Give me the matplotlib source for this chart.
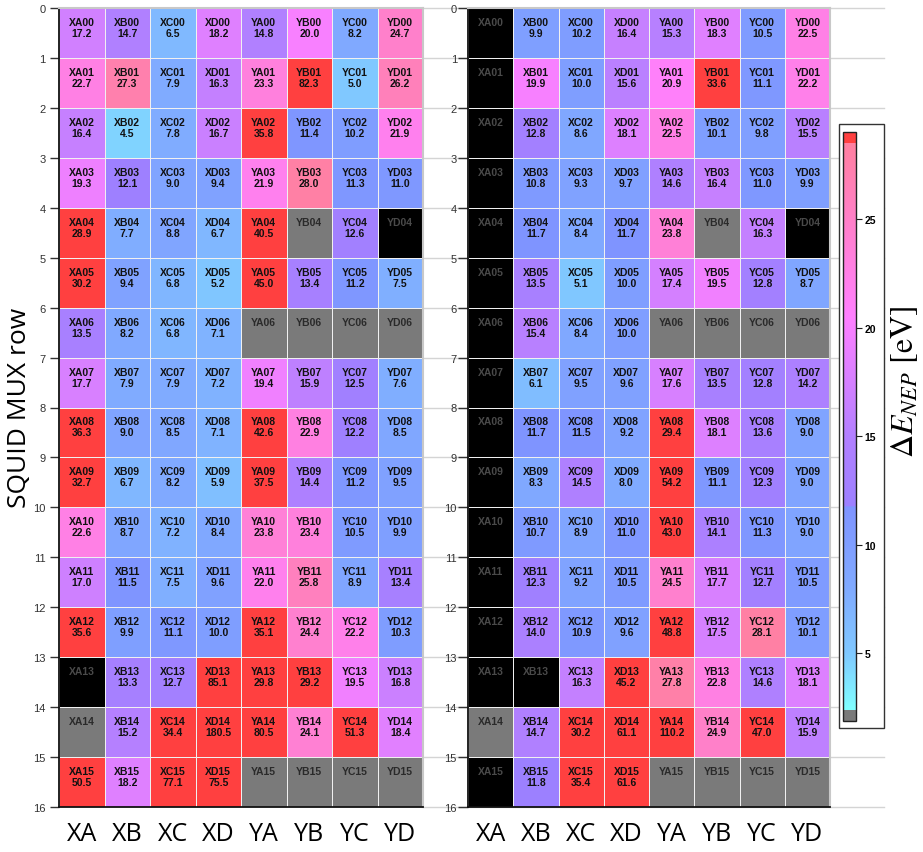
import numpy as np
import matplotlib
matplotlib.use("Agg")
import matplotlib.pyplot as plt
from matplotlib.colors import LinearSegmentedColormap, ListedColormap
from matplotlib.patches import Rectangle
from matplotlib.lines import Line2D

nan = np.nan

columns = ["XA", "XB", "XC", "XD", "YA", "YB", "YC", "YD"]
n_rows = 16

# Noise-equivalent energy resolution per channel [eV]; nan = no value
left_values = [
    [17.2, 14.7, 6.5, 18.2, 14.8, 20.0, 8.2, 24.7],
    [22.7, 27.3, 7.9, 16.3, 23.3, 82.3, 5.0, 26.2],
    [16.4, 4.5, 7.8, 16.7, 35.8, 11.4, 10.2, 21.9],
    [19.3, 12.1, 9.0, 9.4, 21.9, 28.0, 11.3, 11.0],
    [28.9, 7.7, 8.8, 6.7, 40.5, nan, 12.6, nan],
    [30.2, 9.4, 6.8, 5.2, 45.0, 13.4, 11.2, 7.5],
    [13.5, 8.2, 6.8, 7.1, nan, nan, nan, nan],
    [17.7, 7.9, 7.9, 7.2, 19.4, 15.9, 12.5, 7.6],
    [36.3, 9.0, 8.5, 7.1, 42.6, 22.9, 12.2, 8.5],
    [32.7, 6.7, 8.2, 5.9, 37.5, 14.4, 11.2, 9.5],
    [22.6, 8.7, 7.2, 8.4, 23.8, 23.4, 10.5, 9.9],
    [17.0, 11.5, 7.5, 9.6, 22.0, 25.8, 8.9, 13.4],
    [35.6, 9.9, 11.1, 10.0, 35.1, 24.4, 22.2, 10.3],
    [nan, 13.3, 12.7, 85.1, 29.8, 29.2, 19.5, 16.8],
    [nan, 15.2, 34.4, 180.5, 80.5, 24.1, 51.3, 18.4],
    [50.5, 18.2, 77.1, 75.5, nan, nan, nan, nan],
]
left_dead = ["YD04", "XA13"]

right_values = [
    [nan, 9.9, 10.2, 16.4, 15.3, 18.3, 10.5, 22.5],
    [nan, 19.9, 10.0, 15.6, 20.9, 33.6, 11.1, 22.2],
    [nan, 12.8, 8.6, 18.1, 22.5, 10.1, 9.8, 15.5],
    [nan, 10.8, 9.3, 9.7, 14.6, 16.4, 11.0, 9.9],
    [nan, 11.7, 8.4, 11.7, 23.8, nan, 16.3, nan],
    [nan, 13.5, 5.1, 10.0, 17.4, 19.5, 12.8, 8.7],
    [nan, 15.4, 8.4, 10.0, nan, nan, nan, nan],
    [nan, 6.1, 9.5, 9.6, 17.6, 13.5, 12.8, 14.2],
    [nan, 11.7, 11.5, 9.2, 29.4, 18.1, 13.6, 9.0],
    [nan, 8.3, 14.5, 8.0, 54.2, 11.1, 12.3, 9.0],
    [nan, 10.7, 8.9, 11.0, 43.0, 14.1, 11.3, 9.0],
    [nan, 12.3, 9.2, 10.5, 24.5, 17.7, 12.7, 10.5],
    [nan, 14.0, 10.9, 9.6, 48.8, 17.5, 28.1, 10.1],
    [nan, nan, 16.3, 45.2, 27.8, 22.8, 14.6, 18.1],
    [nan, 14.7, 30.2, 61.1, 110.2, 24.9, 47.0, 15.9],
    [nan, 11.8, 35.4, 61.6, nan, nan, nan, nan],
]
right_dead = ["XA%02d" % r for r in range(16) if r != 14] + ["XB13", "YD04"]

colorbar_ticks = [5, 10, 15, 20, 25]
vmin, vmax = 2.4, 28.5


# colour scale: cyan -> blue, then purple -> magenta -> pink
def pos(v):
    return (v - vmin) / (vmax - vmin)


cmap = LinearSegmentedColormap.from_list("nep", [
    (0.0, "#80ffff"),
    (pos(5.0), "#80c8ff"),
    (pos(8.0), "#80aaff"),
    (pos(11.74), "#7f94ff"),
    (pos(11.76), "#9c80ff"),
    (pos(15.0), "#b280ff"),
    (pos(20.5), "#ff80ff"),
    (pos(25.0), "#ff80c8"),
    (1.0, "#ff80a0"),
], N=512)
cmap.set_over("#ff4040")
cmap.set_under("#7a7a7a")
cmap.set_bad("#7a7a7a")
dead_cmap = ListedColormap(["#000000"])

W, H = 923, 853
fig = plt.figure(figsize=(W / 100, H / 100), dpi=100)


def fx(px):
    return px / W


def fy(py):
    return 1 - py / H


top_px, bot_px = 9, 808
row_h = (bot_px - top_px) / n_rows

# faint row guide lines running behind the panels
for r in range(n_rows + 1):
    y = fy(top_px + r * row_h)
    fig.add_artist(Line2D([fx(423), fx(884)], [y, y], color="#d4d4d4",
                          lw=1.0, zorder=-2))


def draw_panel(ax, values, dead, tick_len=6.5, tick_pad=3):
    data = np.array(values, dtype=float)
    x = np.arange(len(columns) + 1)
    y = np.arange(n_rows + 1)
    ax.pcolormesh(x, y, np.ma.masked_invalid(data), cmap=cmap, vmin=vmin,
                  vmax=vmax, edgecolors="#f0f0f0", linewidth=0.5)
    dead_mask = np.zeros_like(data)
    for name in dead:
        c = columns.index(name[:2])
        r = int(name[2:])
        dead_mask[r, c] = 1
    ax.pcolormesh(x, y, np.ma.masked_where(dead_mask == 0, dead_mask),
                  cmap=dead_cmap, edgecolors="#f0f0f0", linewidth=0.5)
    for r in range(n_rows):
        for c, col in enumerate(columns):
            name = "%s%02d" % (col, r)
            v = data[r, c]
            if dead_mask[r, c]:
                color = "#4a4a4a"
            elif np.isnan(v):
                color = "#2a2a2a"
            else:
                color = "#111111"
            ax.text(c + 0.5, r + 0.28, name, ha="center", va="center",
                    fontsize=7.5, fontweight="bold", family="Liberation Sans",
                    color=color)
            if not dead_mask[r, c] and not np.isnan(v):
                ax.text(c + 0.5, r + 0.50, "%.1f" % v, ha="center",
                        va="center", fontsize=7.5, fontweight="bold",
                        family="Liberation Sans", color=color)
    ax.set_xlim(0, len(columns))
    ax.set_ylim(n_rows, 0)
    ax.set_yticks(np.arange(n_rows + 1))
    ax.set_yticklabels([str(i) for i in range(n_rows + 1)],
                       family="Liberation Sans", fontsize=8, color="#333333")
    ax.tick_params(axis="y", length=tick_len, width=1, color="#333333",
                   pad=tick_pad)
    ax.set_xticks(np.arange(len(columns)) + 0.5)
    ax.set_xticklabels(columns, family="Open Sans", fontsize=18)
    ax.tick_params(axis="x", length=0, pad=10)
    for s in ("left", "bottom"):
        ax.spines[s].set_color("#111111")
        ax.spines[s].set_linewidth(1.3)
    for s in ("top", "right"):
        ax.spines[s].set_color("#c8c8c8")
        ax.spines[s].set_linewidth(1.5)


ax_l = fig.add_axes([fx(59), fy(bot_px), 364 / W, (bot_px - top_px) / H])
draw_panel(ax_l, left_values, left_dead, tick_len=6.5, tick_pad=3)

ax_r = fig.add_axes([fx(468), fy(bot_px), 362 / W, (bot_px - top_px) / H])
draw_panel(ax_r, right_values, right_dead, tick_len=7.5, tick_pad=0.5)

fig.text(fx(20), fy(408), "SQUID MUX row", rotation=90, ha="center",
         va="center", fontsize=19, family="Open Sans")

# colour bar inside a framed box
fig.add_artist(Rectangle((fx(839), fy(729)), 45 / W, (729 - 125) / H,
                         transform=fig.transFigure, facecolor="white",
                         edgecolor="#333333", lw=1.0, zorder=-1))
cax = fig.add_axes([fx(843), fy(722), 13 / W, (722 - 133) / H])
sm = matplotlib.cm.ScalarMappable(cmap=cmap,
                                  norm=matplotlib.colors.Normalize(vmin, vmax))
cb = fig.colorbar(sm, cax=cax, extend="both", extendrect=True,
                  extendfrac=0.02)
cb.set_ticks(colorbar_ticks)
cb.ax.tick_params(length=4, width=0.8, color="#222222", labelsize=7.5,
                  pad=2)
for t in cb.ax.get_yticklabels():
    t.set_fontweight("bold")
    t.set_family("Liberation Sans")
cb.outline.set_edgecolor("#222222")
cb.outline.set_linewidth(1.0)

plt.rcParams["mathtext.fontset"] = "stix"
fig.text(fx(905), fy(382), r"$\Delta E_{NEP}$ [eV]", rotation=90,
         ha="center", va="center", fontsize=23, family="STIXGeneral")

fig.savefig("out.png", dpi=100)
